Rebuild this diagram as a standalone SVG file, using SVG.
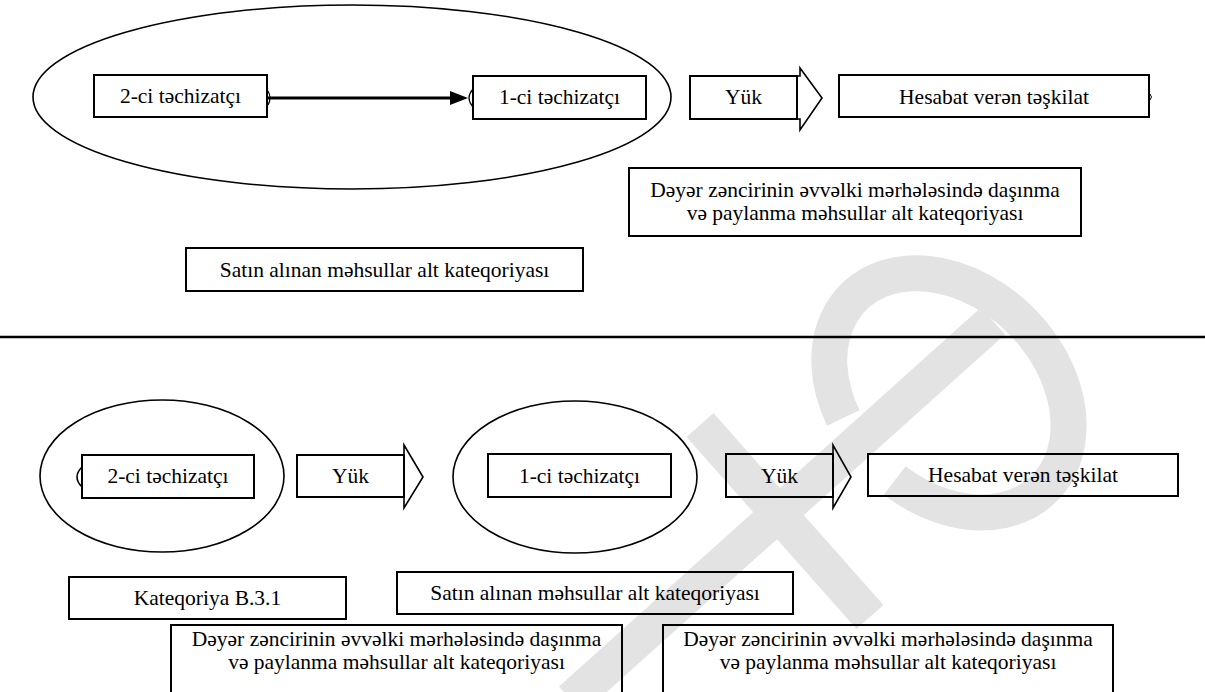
<svg xmlns="http://www.w3.org/2000/svg" width="1205" height="692" viewBox="0 0 1205 692">
<style>
.box{fill:none;stroke:#000;stroke-width:2}
.ell{fill:none;stroke:#000;stroke-width:1.6}
.t{font-family:'Liberation Serif','DejaVu Serif',serif;font-size:21.5px;fill:#000;text-anchor:middle}
.wm{fill:none;stroke:#e3e3e3;stroke-width:36}
.conn{fill:none;stroke:#000;stroke-width:1.6}
</style>
<rect width="1205" height="692" fill="#fff"/>
<g id="watermark">
<path class="wm" d="M843.3,418 A135,102 45 1 1 894.6,480.5"/>
<path class="wm" d="M993,321 L571,700"/>
<path class="wm" d="M700,425 L870,617"/>
</g>
<g id="top-group">
<ellipse class="ell" cx="352" cy="97" rx="319" ry="92"/>
</g>
<g id="top-2ci"><rect class="box" x="94" y="75" width="173" height="42"/><text class="t" x="180.5" y="103">2-ci təchizatçı</text></g>
<g id="top-1ci"><rect class="box" x="473" y="76" width="173" height="43"/><text class="t" x="559.5" y="104">1-ci təchizatçı</text></g>
<g id="top-yuk"><rect class="box" x="690" y="76" width="107" height="43"/><path class="conn" d="M797,76 H800 V68 L822,98 L800,130 V119 H797"/><text class="t" x="743.5" y="104">Yük</text></g>
<g id="top-hesabat"><rect class="box" x="839" y="75" width="310" height="42"/><path fill="none" stroke="#000" stroke-width="1" d="M1150,94 Q1153,97 1150,100"/><text class="t" x="994" y="104">Hesabat verən təşkilat</text></g>
<g id="top-deyer"><rect class="box" x="629" y="168" width="452" height="68"/><text class="t" x="855" y="197">Dəyər zəncirinin əvvəlki mərhələsində daşınma</text><text class="t" x="855" y="220">və paylanma məhsullar alt kateqoriyası</text></g>
<g id="top-satin"><rect class="box" x="186" y="248" width="397" height="43"/><text class="t" x="384.5" y="277">Satın alınan məhsullar alt kateqoriyası</text></g>
<g id="separator"><line x1="0" y1="337" x2="1205" y2="337" stroke="#000" stroke-width="2.5"/></g>
<g id="bot-group-2ci"><ellipse class="ell" cx="162" cy="476" rx="122" ry="76"/></g>
<g id="bot-2ci"><rect class="box" x="82" y="455" width="172" height="43"/><text class="t" x="168" y="483">2-ci təchizatçı</text></g>
<g id="bot-yuk1"><rect class="box" x="297" y="455" width="107" height="42"/><path class="conn" d="M404,455 V445 L423,477 L404,508 V497"/><text class="t" x="350.5" y="483">Yük</text></g>
<g id="bot-group-1ci"><ellipse class="ell" cx="575" cy="477" rx="122" ry="76"/></g>
<g id="bot-1ci"><rect class="box" x="488" y="454" width="183" height="43"/><text class="t" x="579.5" y="483">1-ci təchizatçı</text></g>
<g id="bot-yuk2"><rect class="box" x="726" y="454" width="107" height="43"/><path class="conn" d="M833,454 V445 L851,477 L833,508 V497"/><text class="t" x="779.5" y="483">Yük</text></g>
<g id="bot-hesabat"><rect class="box" x="868" y="454" width="310" height="42"/><text class="t" x="1023" y="482">Hesabat verən təşkilat</text></g>
<g id="bot-kateqoriya"><rect class="box" x="69" y="577" width="277" height="42"/><text class="t" x="207.5" y="605">Kateqoriya B.3.1</text></g>
<g id="bot-satin"><rect class="box" x="397" y="572" width="396" height="42"/><text class="t" x="595" y="600">Satın alınan məhsullar alt kateqoriyası</text></g>
<g id="bot-deyer1"><rect class="box" x="171" y="625" width="451" height="80"/><text class="t" x="396.5" y="646">Dəyər zəncirinin əvvəlki mərhələsində daşınma</text><text class="t" x="396.5" y="669">və paylanma məhsullar alt kateqoriyası</text></g>
<g id="bot-deyer2"><rect class="box" x="663" y="625" width="450" height="80"/><text class="t" x="888" y="646">Dəyər zəncirinin əvvəlki mərhələsində daşınma</text><text class="t" x="888" y="669">və paylanma məhsullar alt kateqoriyası</text></g>
<g id="connectors">
<line x1="268" y1="98" x2="452" y2="98" stroke="#000" stroke-width="3.2"/>
<polygon points="450,91 468,98 450,105" fill="#000"/>
<path fill="none" stroke="#000" stroke-width="1.2" d="M268,91 Q272,98 268,105"/>
<path fill="none" stroke="#000" stroke-width="1.2" d="M473,89 Q465,98 473,107"/>
<path fill="none" stroke="#000" stroke-width="1.5" d="M82,467 Q72,477 82,487"/>
</g>
</svg>
